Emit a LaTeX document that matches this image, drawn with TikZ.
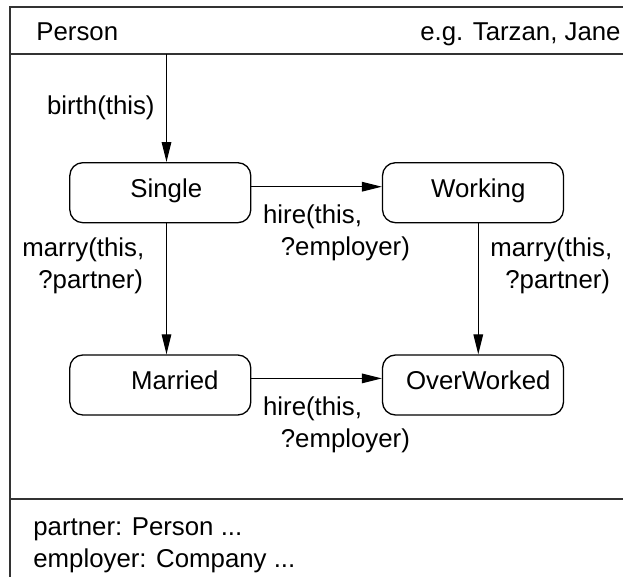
\documentclass[tikz,border=0pt]{standalone}
\usepackage{fontspec}
\setmainfont{Liberation Sans}
\usetikzlibrary{arrows.meta}
\begin{document}
\begin{tikzpicture}[x=0.5pt,y=-0.5pt,
  frame/.style={line width=1pt, draw=black!80},
  state/.style={draw, line width=0.65pt, rounded corners=6.5pt,
    minimum width=90.5pt, minimum height=30pt, inner sep=0pt,
    text height=8.5pt, text depth=4pt, font=\fontsize{12.9}{15}\selectfont},
  trans/.style={line width=0.6pt, -{Triangle[length=10pt,width=4.8pt]}},
  txt/.style={font=\fontsize{12.9}{15}\selectfont, inner sep=0pt},
]
\useasboundingbox (0,0) rectangle (623,577);

% class frame: left and top edges and the compartment dividers
\coordinate (tl) at (10,7.5);
\coordinate (bl) at (10,577);
\coordinate (tr) at (623,7.5);
\coordinate (d1l) at (10,54.5);
\coordinate (d1r) at (623,54.5);
\coordinate (d2l) at (10,499);
\coordinate (d2r) at (623,499);
\draw[frame] (bl) -- (tl) -- (tr);
\draw[frame] (d1l) -- (d1r);
\draw[frame] (d2l) -- (d2r);

% header compartment
\node[txt, anchor=base west] (cls) at (36,41) {Person};
\node[txt, anchor=base east] (eg) at (621,41) {e.g. Tarzan, Jane};

% states (text set slightly right of the box centre)
\node[state] (single) at (160.3,192.7) {\hspace*{6pt}Single};
\node[state] (working) at (473,192.7) {\hspace*{5.3pt}Working};
\node[state] (married) at (160.3,385) {\hspace*{14.5pt}Married};
\node[state] (overworked) at (473,385) {\hspace*{5.3pt}OverWorked};

% transitions
\coordinate (birthsrc) at (166.5,54.5);
\draw[trans] (birthsrc) -- (birthsrc |- single.north);
\draw[trans] ([yshift=3pt]single.east) -- ([yshift=3pt]working.west);
\draw[trans] ([xshift=3.1pt]single.south) -- ([xshift=3.1pt]married.north);
\draw[trans] ([xshift=2.65pt]working.south) -- ([xshift=2.65pt]overworked.north);
\draw[trans] ([yshift=3.3pt]married.east) -- ([yshift=3.3pt]overworked.west);

% transition labels
\node[txt, anchor=base east] (lbirth) at (155,115) {birth(this)};
\node[txt, anchor=base west] (lhire1a) at (262.7,223.5) {hire(this,};
\node[txt, anchor=base west] (lhire1b) at (280.5,255.5) {?employer)};
\node[txt, anchor=base west] (lmarry1a) at (22,256.5) {marry(this,};
\node[txt, anchor=base west] (lmarry1b) at (38,288.5) {?partner)};
\node[txt, anchor=base west] (lmarry2a) at (490,256.5) {marry(this,};
\node[txt, anchor=base west] (lmarry2b) at (505,288.5) {?partner)};
\node[txt, anchor=base west] (lhire2a) at (262.7,415.5) {hire(this,};
\node[txt, anchor=base west] (lhire2b) at (280.5,447.5) {?employer)};

% attribute compartment
\node[txt, anchor=base west] (attr1) at (33,536) {partner: Person ...};
\node[txt, anchor=base west] (attr2) at (33,568) {employer: Company ...};
\end{tikzpicture}
\end{document}
